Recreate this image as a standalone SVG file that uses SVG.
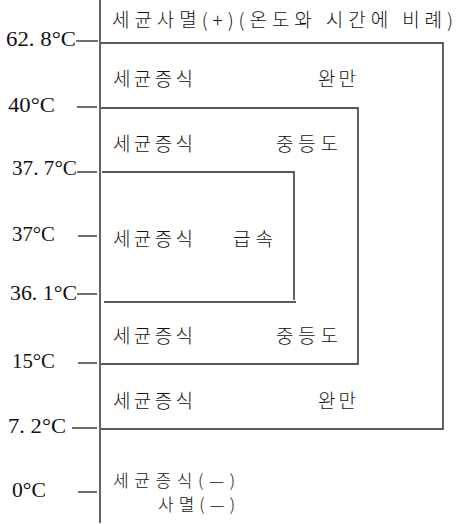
<svg xmlns="http://www.w3.org/2000/svg" width="456" height="524" viewBox="0 0 456 524">
<style>
.ln{stroke:#222;stroke-width:1.4;fill:none}
.tk{stroke:#222;stroke-width:1.3}
.t{font-family:"Liberation Serif","DejaVu Serif",serif;font-size:20px;fill:#111}
.k{font-family:"Noto Sans CJK KR","Noto Sans",sans-serif;font-size:19px;font-weight:300;fill:#111}
.ks{font-size:17px}
</style>
<rect width="456" height="524" fill="#fff"/>
<g id="axis">
<line class="ln" x1="100" y1="0" x2="100" y2="523"/>
</g>
<g id="temps">
<text class="t" x="6" y="46" textLength="70" lengthAdjust="spacingAndGlyphs">62. 8°C</text>
<line class="tk" x1="76" y1="41" x2="98" y2="41"/>
<text class="t" x="8" y="112" textLength="47" lengthAdjust="spacingAndGlyphs">40°C</text>
<line class="tk" x1="77" y1="107" x2="97" y2="107"/>
<text class="t" x="12" y="175" textLength="65" lengthAdjust="spacingAndGlyphs">37. 7°C</text>
<line class="tk" x1="77" y1="172" x2="97" y2="172"/>
<text class="t" x="12" y="241" textLength="43" lengthAdjust="spacingAndGlyphs">37°C</text>
<line class="tk" x1="78" y1="236" x2="97" y2="236"/>
<text class="t" x="10" y="300" textLength="67" lengthAdjust="spacingAndGlyphs">36. 1°C</text>
<line class="tk" x1="77" y1="294" x2="97" y2="294"/>
<text class="t" x="12" y="368" textLength="43" lengthAdjust="spacingAndGlyphs">15°C</text>
<line class="tk" x1="78" y1="363" x2="97" y2="363"/>
<text class="t" x="8" y="433" textLength="58" lengthAdjust="spacingAndGlyphs">7. 2°C</text>
<line class="tk" x1="72" y1="428" x2="97" y2="428"/>
<text class="t" x="12" y="497" textLength="34" lengthAdjust="spacingAndGlyphs">0°C</text>
<line class="tk" x1="78" y1="492" x2="97" y2="492"/>
</g>
<g id="connectors">
<polyline class="ln" points="101,43 443,43 443,429 101,429"/>
<polyline class="ln" points="101,108 358,108 358,364 101,364"/>
<polyline class="ln" points="102,172 294,172 294,300"/>
<line class="ln" x1="104" y1="302" x2="296" y2="302"/>
</g>
<g id="kill">
<text class="k" x="112" y="27" textLength="341" lengthAdjust="spacing">세균사멸(+)(온도와 시간에 비례)</text>
</g>
<g id="row1">
<text class="k" x="113" y="86" textLength="80" lengthAdjust="spacing">세균증식</text>
<text class="k" x="318" y="86" textLength="38" lengthAdjust="spacing">완만</text>
</g>
<g id="row2">
<text class="k" x="113" y="151" textLength="80" lengthAdjust="spacing">세균증식</text>
<text class="k" x="276" y="151" textLength="62" lengthAdjust="spacing">중등도</text>
</g>
<g id="row3">
<text class="k" x="113" y="246" textLength="80" lengthAdjust="spacing">세균증식</text>
<text class="k" x="233" y="246" textLength="40" lengthAdjust="spacing">급속</text>
</g>
<g id="row4">
<text class="k" x="113" y="343" textLength="80" lengthAdjust="spacing">세균증식</text>
<text class="k" x="276" y="343" textLength="62" lengthAdjust="spacing">중등도</text>
</g>
<g id="row5">
<text class="k" x="113" y="408" textLength="80" lengthAdjust="spacing">세균증식</text>
<text class="k" x="318" y="408" textLength="38" lengthAdjust="spacing">완만</text>
</g>
<g id="row6">
<text class="k ks" x="113" y="487" textLength="122" lengthAdjust="spacing">세균증식(—)</text>
<text class="k ks" x="158" y="511" textLength="77" lengthAdjust="spacing">사멸(—)</text>
</g>
</svg>
